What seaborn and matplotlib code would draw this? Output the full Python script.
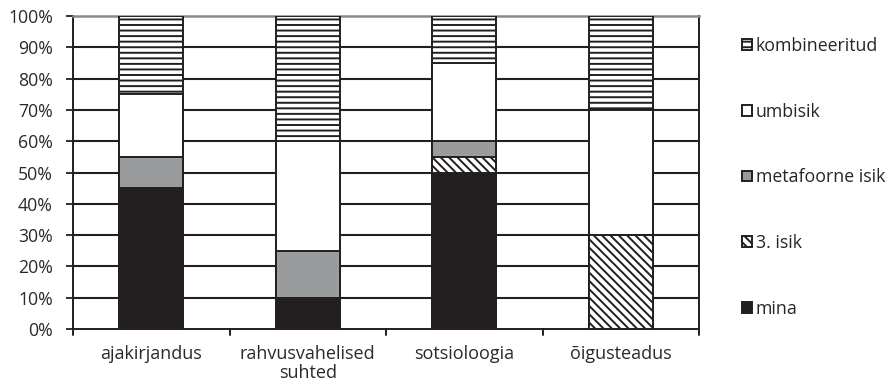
import matplotlib
matplotlib.use("Agg")
import matplotlib.pyplot as plt
from matplotlib.patches import Patch
import numpy as np
import pandas as pd
import seaborn as sns

categories = ["ajakirjandus", "rahvusvahelised\nsuhted", "sotsioloogia", "õigusteadus"]
series = ["mina", "3. isik", "metafoorne isik", "umbisik", "kombineeritud"]
mina = [45, 10, 50, 0]
isik3 = [0, 0, 5, 30]
metafoorne = [10, 15, 5, 0]
umbisik = [20, 35, 25, 40]
kombineeritud = [25, 40, 15, 30]
y_ticks = [0, 10, 20, 30, 40, 50, 60, 70, 80, 90, 100]
y_labels = [f"{v}%" for v in y_ticks]

values = [mina, isik3, metafoorne, umbisik, kombineeritud]
faces = ["#231f20", "white", "#9a9b9d", "white", "white"]
backslash = chr(92)
hatches = [None, backslash * 4, None, None, "---"]
dark = "#231f20"

sns.set_theme(style="white")
plt.rcParams["font.family"] = ["Open Sans", "DejaVu Sans"]
plt.rcParams["hatch.linewidth"] = 1.4
plt.rcParams["hatch.color"] = dark

fig = plt.figure(figsize=(8.88, 3.84), dpi=100)
ax = fig.add_axes([73 / 888, 1 - 329 / 384, (699 - 73) / 888, (329 - 16) / 384])

# cumulative stacks, drawn from the top segment down so lower segments overlay
cum = np.cumsum(np.array(values, dtype=float), axis=0)
for i in range(len(series) - 1, -1, -1):
    df = pd.DataFrame({"cat": categories, "val": cum[i]})
    sns.barplot(data=df, x="cat", y="val", order=categories, color=faces[i],
                saturation=1, width=0.41, edgecolor=dark, linewidth=1.4,
                hatch=hatches[i], ax=ax, zorder=3)

ax.set_ylim(0, 100)
ax.set_xlim(-0.5, len(categories) - 0.5)
ax.set_yticks(y_ticks)
ax.set_yticklabels(y_labels, fontsize=12.7, color="#2a2a2a")
ax.set_xticks(range(len(categories)))
ax.set_xticklabels(categories, fontsize=13, color="#2a2a2a", linespacing=1.1)
ax.set_xlabel("")
ax.set_ylabel("")

for v in y_ticks[1:-1]:
    ax.axhline(v, color=dark, linewidth=1.5, zorder=1)

# boundary tick marks between categories
ax.tick_params(axis="x", length=0, pad=11.5)
ax.tick_params(axis="y", length=5, width=1.3, color=dark, direction="out", left=True, pad=9.5)
for xb in np.arange(-0.5, len(categories), 1.0):
    ax.plot([xb, xb], [0, -1.9], color=dark, linewidth=1.4, clip_on=False, zorder=4)

for s in ["left", "bottom", "right"]:
    ax.spines[s].set_color(dark)
    ax.spines[s].set_linewidth(1.4)
    ax.spines[s].set_visible(True)
ax.spines["top"].set_color("#8a8a8a")
ax.spines["top"].set_linewidth(1.8)
ax.spines["top"].set_visible(True)

handles = [Patch(facecolor=faces[i], edgecolor=dark, hatch=hatches[i], linewidth=1.4, label=series[i])
           for i in range(len(series) - 1, -1, -1)]
fig.legend(handles=handles, loc="upper left", bbox_to_anchor=(742 / 888, 1 - 37 / 384),
           frameon=False, fontsize=12.8, handlelength=0.56, handleheight=0.56,
           handletextpad=0.2, labelspacing=2.68, borderaxespad=0, borderpad=0)

fig.savefig("out.png", dpi=100)
